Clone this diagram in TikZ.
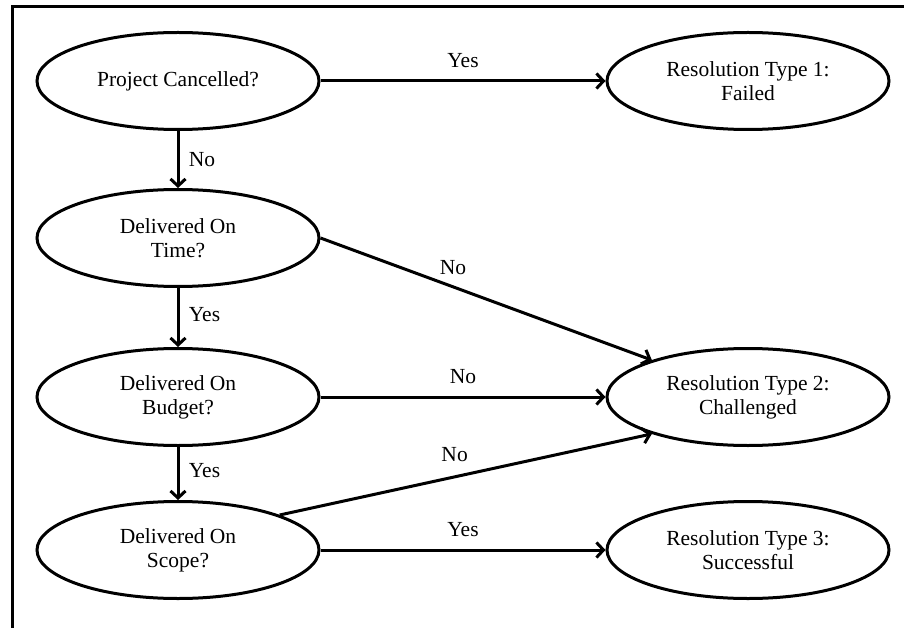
\documentclass[tikz,border=0pt]{standalone}
\usepackage{fontspec}
\setmainfont{Liberation Serif}
\usetikzlibrary{shapes.geometric,arrows.meta}
\begin{document}
\begin{tikzpicture}[x=1pt, y=-1pt,
    question/.style={draw, ellipse, line width=3pt, minimum width=282pt, minimum height=97pt,
        align=center, inner sep=0pt, font=\fontsize{21.5}{24}\selectfont},
    flow/.style={line width=3pt, -{Straight Barb[length=7pt,width=15pt]}},
    answer/.style={font=\fontsize{21.5}{24}\selectfont}]
    \useasboundingbox (0, 0) rectangle (904, 628);
        \draw[line width=3pt] (12, 628) -- (12, 7) -- (904, 7);
        % questions
        \node[question] (cancel) at (178, 81) {Project Cancelled?};
        \node[question] (time) at (178, 238) {Delivered On\\Time?};
        \node[question] (budget) at (178, 397) {Delivered On\\Budget?};
        \node[question] (scope) at (178, 550) {Delivered On\\Scope?};
        % resolutions
        \node[question] (failed) at (748, 81) {Resolution Type 1:\\Failed};
        \node[question] (challenged) at (748, 397) {Resolution Type 2:\\Challenged};
        \node[question] (successful) at (748, 550) {Resolution Type 3:\\Successful};
        \draw[flow] (cancel) -- node[answer, above=8pt] {Yes} (failed);
        \draw[flow] (cancel) -- node[answer, right=6pt] {No} (time);
        \draw[flow] (time) -- node[answer, right=6pt, yshift=3pt] {Yes} (budget);
        \draw[flow] (budget) -- node[answer, right=6pt, yshift=3pt] {Yes} (scope);
        \draw[flow] (time.east) -- node[answer, pos=0.4, above=7pt] {No} (challenged.159);
        \draw[flow] (budget) -- node[answer, above=8pt] {No} (challenged);
        \draw[flow] (scope.19) -- node[answer, pos=0.47, above=10pt] {No} (challenged.201);
        \draw[flow] (scope) -- node[answer, above=8pt] {Yes} (successful);
\end{tikzpicture}
\end{document}
